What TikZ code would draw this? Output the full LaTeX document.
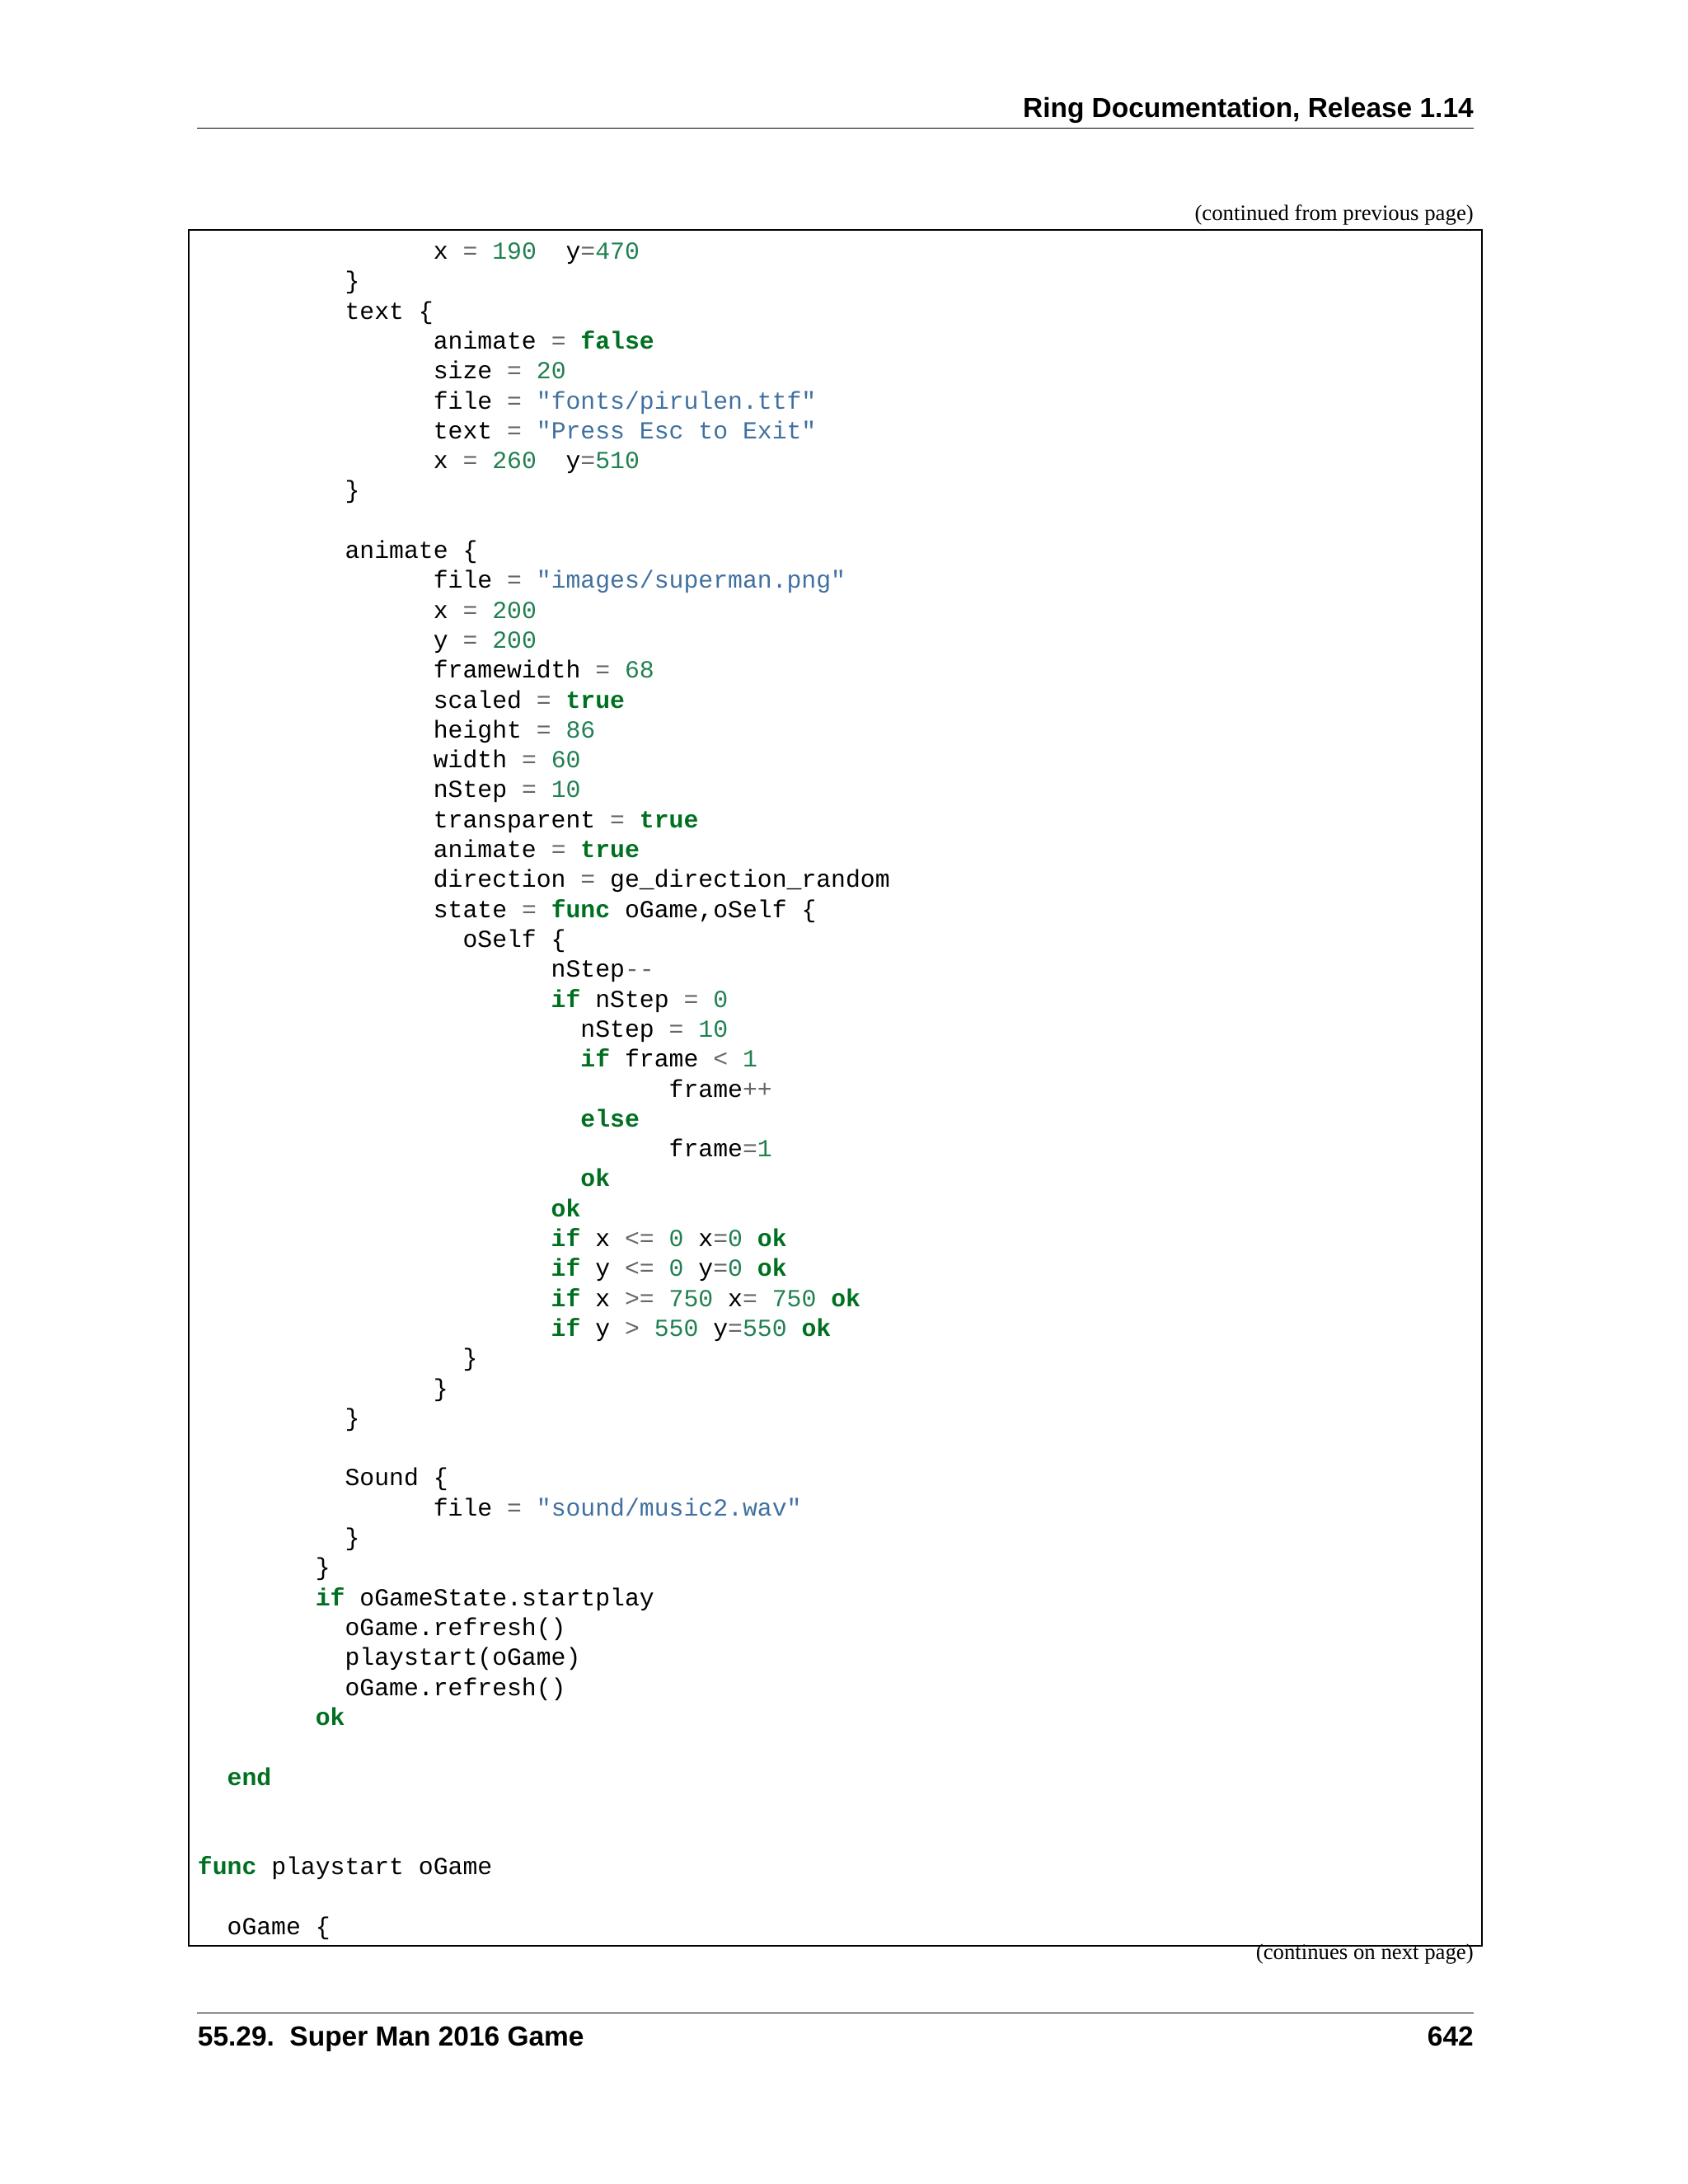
\documentclass[tikz,border=0pt]{standalone}
\usepackage{fontspec}
\setmainfont{Liberation Serif}
\newfontfamily\monof{Liberation Mono}
\newfontfamily\hdf{Liberation Sans}
\definecolor{kw}{HTML}{007020}
\definecolor{num}{HTML}{208050}
\definecolor{str}{HTML}{4070A0}
\definecolor{opc}{HTML}{666666}
\newcommand{\K}[1]{\textcolor{kw}{\bfseries #1}}
\newcommand{\N}[1]{\textcolor{num}{#1}}
\newcommand{\Sq}[1]{\textcolor{str}{#1}}
\newcommand{\Op}[1]{\textcolor{opc}{#1}}
\tikzset{codeline/.style={anchor=base west,inner sep=0pt,font=\monof\fontsize{8.9}{10}\selectfont},
hdr/.style={inner sep=0pt,font=\hdf\bfseries\fontsize{10}{12}\selectfont},
note/.style={inner sep=0pt,anchor=base east,font=\fontsize{8}{9}\selectfont}}
\newcommand{\cl}[3]{\node[codeline] (l#1) at ({143+10.68*#2},{188+21.7*(#1-1)}) {#3};}
\begin{document}
\begin{tikzpicture}[x=0.5pt,y=-0.5pt]
\useasboundingbox (0,0) rectangle (1224,1584);
\node[hdr,anchor=base east] (h) at (1069,85) {Ring Documentation, Release 1.14};
\draw[line width=0.5pt] (143,93) -- (1069,93);
\node[note] (c1) at (1069,160) {(continued from previous page)};
\draw[line width=0.6pt] (137,167) rectangle (1075,1411);
\node[note] (c2) at (1069,1421) {(continues on next page)};
\draw[line width=0.5pt] (143,1460) -- (1069,1460);
\node[hdr,anchor=base west] (f1) at (143,1484) {55.29.\ \ Super Man 2016 Game};
\node[hdr,anchor=base east] (f2) at (1069,1484) {642};
\cl{1}{16}{x \Op{=} \N{190}~ y\Op{=}\N{470}}
\cl{2}{10}{\}}
\cl{3}{10}{text \{}
\cl{4}{16}{animate \Op{=} \K{false}}
\cl{5}{16}{size \Op{=} \N{20}}
\cl{6}{16}{file \Op{=} \Sq{"fonts/pirulen.ttf"}}
\cl{7}{16}{text \Op{=} \Sq{"Press Esc to Exit"}}
\cl{8}{16}{x \Op{=} \N{260}~ y\Op{=}\N{510}}
\cl{9}{10}{\}}
\cl{11}{10}{animate \{}
\cl{12}{16}{file \Op{=} \Sq{"images/superman.png"}}
\cl{13}{16}{x \Op{=} \N{200}}
\cl{14}{16}{y \Op{=} \N{200}}
\cl{15}{16}{framewidth \Op{=} \N{68}}
\cl{16}{16}{scaled \Op{=} \K{true}}
\cl{17}{16}{height \Op{=} \N{86}}
\cl{18}{16}{width \Op{=} \N{60}}
\cl{19}{16}{nStep \Op{=} \N{10}}
\cl{20}{16}{transparent \Op{=} \K{true}}
\cl{21}{16}{animate \Op{=} \K{true}}
\cl{22}{16}{direction \Op{=} ge\_direction\_random}
\cl{23}{16}{state \Op{=} \K{func} oGame,oSelf \{}
\cl{24}{18}{oSelf \{}
\cl{25}{24}{nStep\Op{-}\Op{-}}
\cl{26}{24}{\K{if} nStep \Op{=} \N{0}}
\cl{27}{26}{nStep \Op{=} \N{10}}
\cl{28}{26}{\K{if} frame \Op{<} \N{1}}
\cl{29}{32}{frame\Op{+}\Op{+}}
\cl{30}{26}{\K{else}}
\cl{31}{32}{frame\Op{=}\N{1}}
\cl{32}{26}{\K{ok}}
\cl{33}{24}{\K{ok}}
\cl{34}{24}{\K{if} x \Op{<=} \N{0} x\Op{=}\N{0} \K{ok}}
\cl{35}{24}{\K{if} y \Op{<=} \N{0} y\Op{=}\N{0} \K{ok}}
\cl{36}{24}{\K{if} x \Op{>=} \N{750} x\Op{=} \N{750} \K{ok}}
\cl{37}{24}{\K{if} y \Op{>} \N{550} y\Op{=}\N{550} \K{ok}}
\cl{38}{18}{\}}
\cl{39}{16}{\}}
\cl{40}{10}{\}}
\cl{42}{10}{Sound \{}
\cl{43}{16}{file \Op{=} \Sq{"sound/music2.wav"}}
\cl{44}{10}{\}}
\cl{45}{8}{\}}
\cl{46}{8}{\K{if} oGameState.startplay}
\cl{47}{10}{oGame.refresh()}
\cl{48}{10}{playstart(oGame)}
\cl{49}{10}{oGame.refresh()}
\cl{50}{8}{\K{ok}}
\cl{52}{2}{\K{end}}
\cl{55}{0}{\K{func} playstart oGame}
\cl{57}{2}{oGame \{}
\end{tikzpicture}
\end{document}
